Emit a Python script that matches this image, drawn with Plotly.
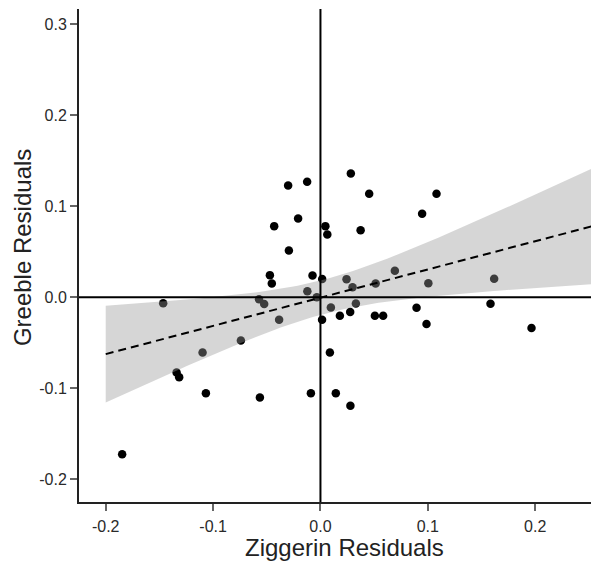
import numpy as np
import plotly.graph_objects as go

# Residuals: Ziggerin (x) vs Greeble (y)
ziggerin = [
    -0.1847, -0.1465, -0.1340, -0.1316, -0.1098, -0.1067, -0.0741, -0.0572,
    -0.0524, -0.0564, -0.0385, -0.0471, -0.0453, -0.0431, -0.0301, -0.0294,
    -0.0208, -0.0124, -0.0122, -0.0074, -0.0089, -0.0034, 0.0016, 0.0015,
    0.0046, 0.0064, 0.0097, 0.0088, 0.0143, 0.0181, 0.0277, 0.0279,
    0.0283, 0.0243, 0.0299, 0.0330, 0.0374, 0.0454, 0.0507, 0.0514,
    0.0584, 0.0693, 0.0895, 0.0947, 0.0988, 0.1005, 0.1081, 0.1584,
    0.1618, 0.1966,
]
greeble = [
    -0.1723, -0.0067, -0.0827, -0.0877, -0.0607, -0.1053, -0.0475, -0.0023,
    -0.0075, -0.1101, -0.0248, 0.0243, 0.0150, 0.0781, 0.1226, 0.0513,
    0.0866, 0.1269, 0.0065, 0.0240, -0.1053, -0.0001, 0.0200, -0.0248,
    0.0781, 0.0688, -0.0113, -0.0607, -0.1053, -0.0204, -0.0162, -0.1190,
    0.1360, 0.0199, 0.0109, -0.0069, 0.0735, 0.1137, -0.0204, 0.0150,
    -0.0204, 0.0290, -0.0114, 0.0916, -0.0294, 0.0155, 0.1137, -0.0072,
    0.0202, -0.0338,
]

x_ticks = [-0.2, -0.1, 0.0, 0.1, 0.2]
x_labels = ["-0.2", "-0.1", "0.0", "0.1", "0.2"]
y_ticks = [-0.2, -0.1, 0.0, 0.1, 0.2, 0.3]
y_labels = ["-0.2", "-0.1", "0.0", "0.1", "0.2", "0.3"]

# Linear fit with 95% confidence band over the full x scale
X = np.array(ziggerin)
Y = np.array(greeble)
n = len(X)
slope, intercept = np.polyfit(X, Y, 1)
resid = Y - (intercept + slope * X)
s = np.sqrt(np.sum(resid ** 2) / (n - 2))
xbar = X.mean()
sxx = np.sum((X - xbar) ** 2)
t_crit = 2.0106  # t(0.975, df=48)

grid = np.linspace(-0.2, 0.2725, 120)
fit = intercept + slope * grid
se = s * np.sqrt(1.0 / n + (grid - xbar) ** 2 / sxx)
upper = fit + t_crit * se
lower = fit - t_crit * se

fig = go.Figure()

fig.add_trace(go.Scatter(
    x=X, y=Y, mode="markers",
    marker=dict(color="black", size=8.5, line=dict(width=0)),
    hoverinfo="skip", showlegend=False,
))

fig.add_trace(go.Scatter(
    x=np.concatenate([grid, grid[::-1]]),
    y=np.concatenate([upper, lower[::-1]]),
    fill="toself", fillcolor="rgba(153,153,153,0.4)",
    line=dict(width=0), mode="lines",
    hoverinfo="skip", showlegend=False,
))

fig.add_trace(go.Scatter(
    x=grid, y=fit, mode="lines",
    line=dict(color="black", width=2, dash="8px,5px"),
    hoverinfo="skip", showlegend=False,
))

# Reference lines through the origin
fig.add_shape(type="line", xref="x", yref="paper", x0=0, x1=0, y0=0, y1=1,
              line=dict(color="black", width=2), layer="above")
fig.add_shape(type="line", xref="paper", yref="y", x0=0, x1=1, y0=0, y1=0,
              line=dict(color="black", width=2), layer="above")

axis_common = dict(
    showgrid=False, zeroline=False, showline=True,
    linecolor="#222222", linewidth=2,
    ticks="outside", ticklen=7, tickwidth=1.5, tickcolor="#666666",
    tickfont=dict(family="Liberation Sans, Arial, sans-serif", size=16, color="#2a2a2a"),
)

fig.update_layout(
    width=591, height=563,
    margin=dict(l=79, r=0, t=9, b=61),
    plot_bgcolor="white", paper_bgcolor="white",
    xaxis=dict(range=[-0.2249, 0.252], tickvals=x_ticks, ticktext=x_labels,
               ticklabelstandoff=2, **axis_common),
    yaxis=dict(range=[-0.2248, 0.3165], tickvals=y_ticks, ticktext=y_labels, **axis_common),
    annotations=[
        dict(text="Ziggerin Residuals", xref="paper", yref="paper",
             x=0.5195, y=-0.0933, xanchor="center", yanchor="middle",
             showarrow=False,
             font=dict(family="Liberation Sans, Arial, sans-serif", size=24, color="#222222")),
        dict(text="Greeble Residuals", xref="paper", yref="paper",
             x=-0.1113, y=0.515, xanchor="center", yanchor="middle",
             textangle=-90, showarrow=False,
             font=dict(family="Liberation Sans, Arial, sans-serif", size=24, color="#222222")),
    ],
)

fig.write_html("out.html")
